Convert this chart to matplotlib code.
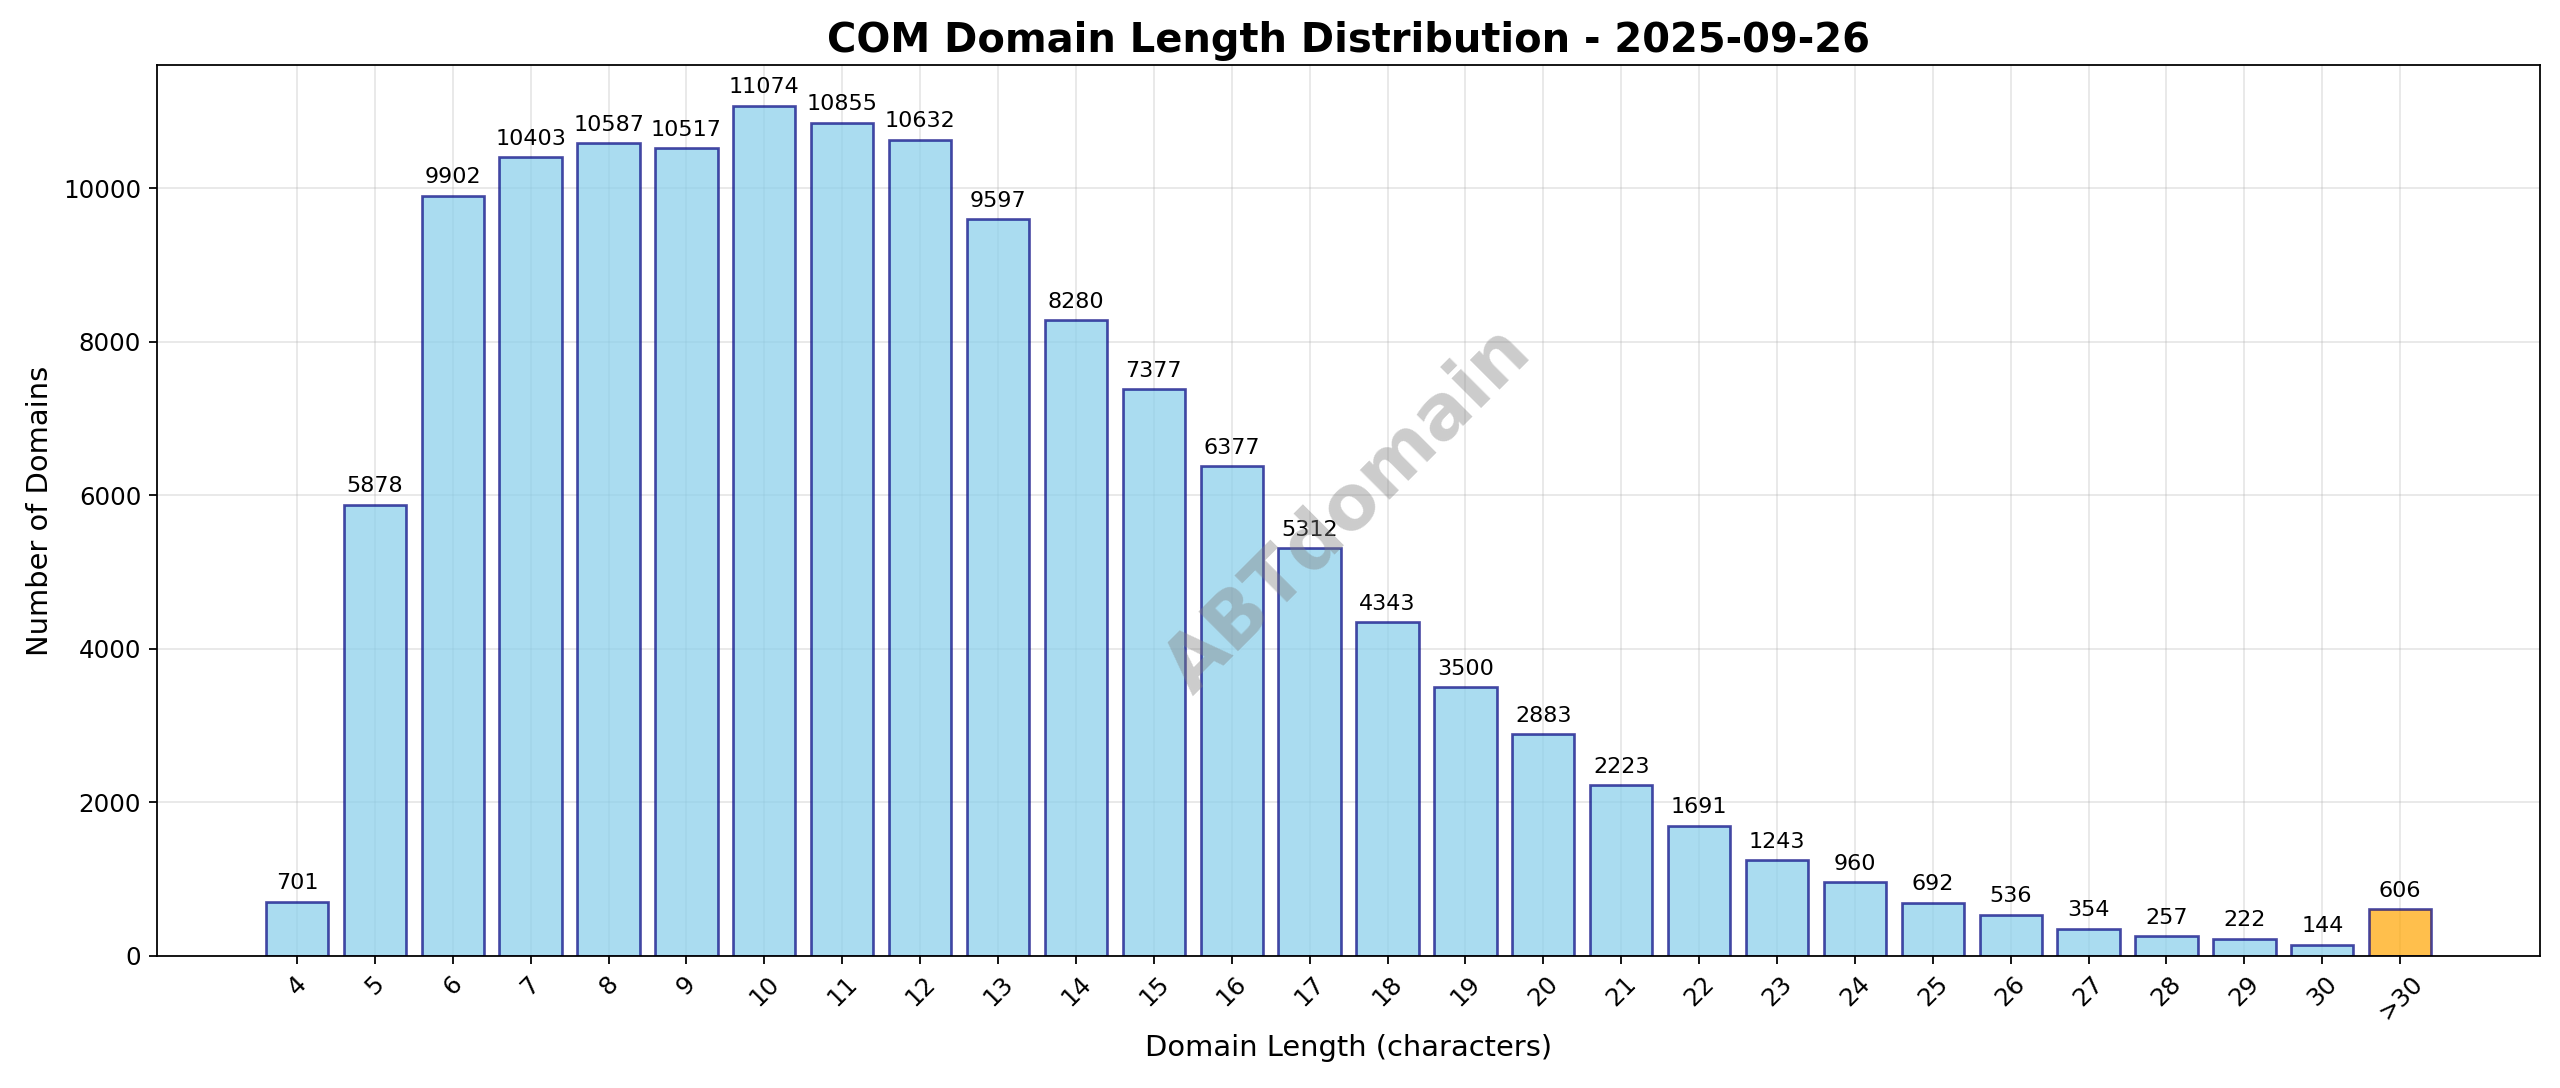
import matplotlib
matplotlib.use("Agg")
import matplotlib.pyplot as plt

lengths = [str(i) for i in range(4, 31)] + [">30"]
counts = [701, 5878, 9902, 10403, 10587, 10517, 11074, 10855, 10632, 9597,
          8280, 7377, 6377, 5312, 4343, 3500, 2883, 2223, 1691, 1243,
          960, 692, 536, 354, 257, 222, 144, 606]

fig, ax = plt.subplots(figsize=(16, 6.8), dpi=160)
x = list(range(len(lengths)))
colors = ["skyblue"] * (len(lengths) - 1) + ["orange"]
ax.bar(x, counts, color=colors, alpha=0.7, edgecolor="navy", linewidth=1.2)
for xi, c in zip(x, counts):
    ax.text(xi, c + 110, str(c), ha="center", va="bottom", fontsize=10)

ax.set_xticks(x)
ax.set_xticklabels(lengths, rotation=45)
ax.tick_params(labelsize=11)
ax.set_xlim(-1.8, len(lengths) - 1 + 1.8)
ax.set_ylim(0, 11600)
ax.set_xlabel("Domain Length (characters)", fontsize=13)
ax.set_ylabel("Number of Domains", fontsize=13)
ax.set_title("COM Domain Length Distribution - 2025-09-26", fontsize=18, fontweight="bold")
ax.grid(True, alpha=0.3)
ax.set_axisbelow(True)
ax.text(0.5, 0.5, "ABTdomain", transform=ax.transAxes, fontsize=34, color="gray",
        alpha=0.4, rotation=45, ha="center", va="center", fontweight="bold")

plt.subplots_adjust(left=96 / 1568, right=1556 / 1568, top=1 - 40 / 666, bottom=1 - 585 / 666)
fig.savefig("out.png", dpi=160)
